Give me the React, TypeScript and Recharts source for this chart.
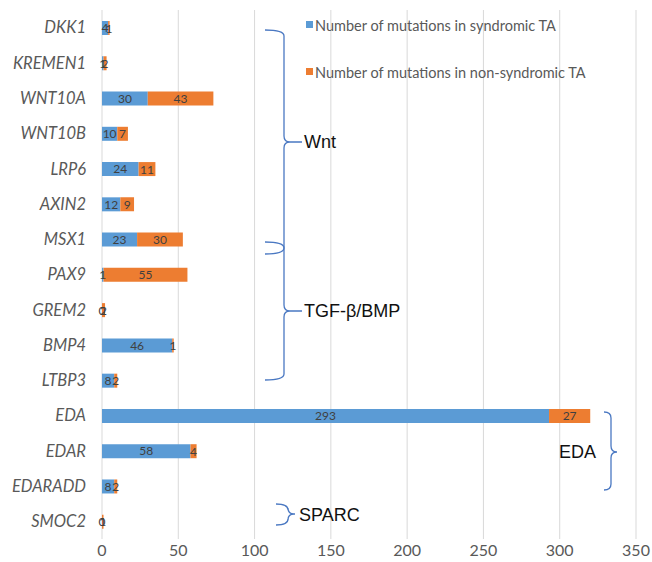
import React from "react";
import { BarChart, Bar, XAxis, YAxis, CartesianGrid, LabelList } from "recharts";

const genes = [
  "DKK1", "KREMEN1", "WNT10A", "WNT10B", "LRP6", "AXIN2", "MSX1", "PAX9",
  "GREM2", "BMP4", "LTBP3", "EDA", "EDAR", "EDARADD", "SMOC2",
];
const syndromic = [4, 1, 30, 10, 24, 12, 23, 1, 0, 46, 8, 293, 58, 8, 0];
const nonSyndromic = [1, 2, 43, 7, 11, 9, 30, 55, 2, 1, 2, 27, 4, 2, 1];
const xTicks = [0, 50, 100, 150, 200, 250, 300, 350];

const data = genes.map((gene, i) => ({
  gene,
  syndromic: syndromic[i],
  nonSyndromic: nonSyndromic[i],
}));

const BLUE = "#5B9BD5";
const ORANGE = "#ED7D31";
const BRACE = "#4a78c2";
const LABEL = "#404040";
const FONT = "Lato, 'Open Sans', sans-serif";

// right-facing curly brace
function brace(xl: number, xv: number, xp: number, y0: number, ym: number, y1: number, r = 6) {
  return (
    `M ${xl} ${y0} Q ${xv} ${y0} ${xv} ${y0 + r} V ${ym - r} ` +
    `Q ${xv} ${ym} ${xv + r} ${ym} H ${xp} M ${xv + r} ${ym} ` +
    `Q ${xv} ${ym} ${xv} ${ym + r} V ${y1 - r} Q ${xv} ${y1} ${xl} ${y1}`
  );
}

const groups = [
  { label: "Wnt", xl: 265, xv: 284, xp: 302, y0: 30, ym: 142, y1: 254, tx: 304, ty: 142 },
  { label: "TGF-β/BMP", xl: 265, xv: 284, xp: 302, y0: 242, ym: 311, y1: 380, tx: 304, ty: 311 },
  { label: "EDA", xl: 604, xv: 611, xp: 617, y0: 412, ym: 452, y1: 490, tx: 559, ty: 452 },
  { label: "SPARC", xl: 276, xv: 288, xp: 295, y0: 504, ym: 514, y1: 525, tx: 299, ty: 515 },
];

const legendItems = [
  { name: "Number of mutations in syndromic TA", color: BLUE, y: 25 },
  { name: "Number of mutations in non-syndromic TA", color: ORANGE, y: 72 },
];

// orange labels; also prints the blue "0" that has no bar of its own
const OrangeLabel = (props: any) => {
  const { x, y, width, height, value, index } = props;
  const cy = y + height / 2;
  return (
    <g>
      {syndromic[index] === 0 && (
        <text x={x} y={cy} textAnchor="middle" dominantBaseline="central" fill={LABEL} fontSize={12} fontFamily={FONT}>
          0
        </text>
      )}
      <text x={x + width / 2} y={cy} textAnchor="middle" dominantBaseline="central" fill={LABEL} fontSize={12} fontFamily={FONT}>
        {value}
      </text>
    </g>
  );
};

export default function App() {
  return (
    <div style={{ position: "absolute", left: 0, top: 0, width: 652, height: 562, background: "#fff" }}>
      <BarChart
        width={652}
        height={562}
        data={data}
        layout="vertical"
        barCategoryGap={0}
        margin={{ top: 10, right: 16, bottom: 0, left: 0 }}
      >
        <CartesianGrid horizontal={false} stroke="#D9D9D9" />
        <XAxis
          type="number"
          domain={[0, 350]}
          ticks={xTicks}
          tickLine={false}
          axisLine={false}
          height={23}
          tickMargin={0}
          tick={{ fill: "#595959", fontSize: 16, fontFamily: FONT }}
        />
        <YAxis
          type="category"
          dataKey="gene"
          width={102}
          tickLine={false}
          axisLine={false}
          tickMargin={10}
          tick={{ fill: "#595959", fontSize: 16.5, fontStyle: "italic", fontFamily: FONT }}
        />
        <Bar dataKey="syndromic" stackId="a" fill={BLUE} barSize={14} isAnimationActive={false}>
          <LabelList dataKey="syndromic" position="center" fill={LABEL} fontSize={12} fontFamily={FONT} />
        </Bar>
        <Bar dataKey="nonSyndromic" stackId="a" fill={ORANGE} barSize={14} isAnimationActive={false}>
          <LabelList dataKey="nonSyndromic" content={OrangeLabel} />
        </Bar>
      </BarChart>
      <svg width={652} height={562} style={{ position: "absolute", left: 0, top: 0, pointerEvents: "none" }}>
        {legendItems.map((it) => (
          <g key={it.name}>
            <rect x={306} y={it.y - 4} width={7} height={7} fill={it.color} />
            <text x={315} y={it.y} dominantBaseline="central" fill="#595959" fontSize={14.5} fontFamily={FONT}>
              {it.name}
            </text>
          </g>
        ))}
        {groups.map((g) => (
          <g key={g.label}>
            <path d={brace(g.xl, g.xv, g.xp, g.y0, g.ym, g.y1)} fill="none" stroke={BRACE} strokeWidth={1.3} />
            <text
              x={g.tx}
              y={g.ty}
              dominantBaseline="central"
              fill="#111"
              fontSize={18}
              fontFamily="'Liberation Sans', Arial, sans-serif"
            >
              {g.label}
            </text>
          </g>
        ))}
      </svg>
    </div>
  );
}
